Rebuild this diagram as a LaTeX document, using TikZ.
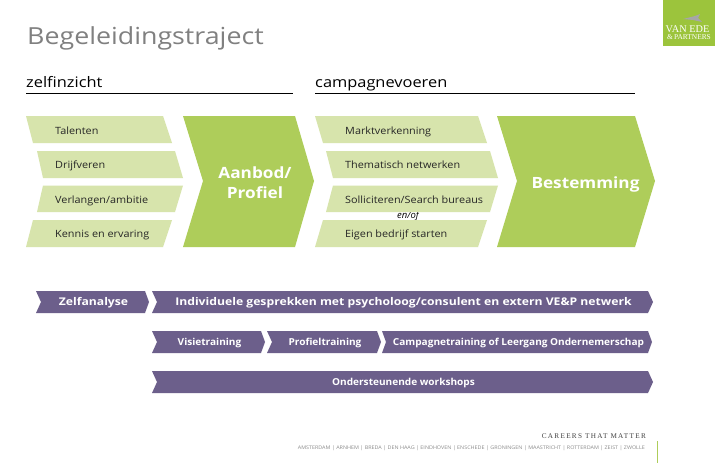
\documentclass[tikz,border=0pt]{standalone}
\usepackage{fontspec}
\setmainfont{Open Sans}
\newfontfamily\logofont{Liberation Serif}
\definecolor{lightgreen}{HTML}{D7E4AC}
\definecolor{midgreen}{HTML}{AECD5A}
\definecolor{logogreen}{HTML}{9CC43C}
\definecolor{purplebar}{HTML}{6C5F8B}
\definecolor{titlegray}{HTML}{808080}
\tikzset{
  lightshape/.style={fill=lightgreen,draw=none},
  bigshape/.style={fill=midgreen,draw=none},
  barshape/.style={fill=purplebar,draw=none},
  itemlabel/.style={anchor=base west,inner sep=0pt,font=\fontsize{10}{12}\selectfont\addfontfeature{FakeStretch=1.085},text=black!85},
  biglabel/.style={anchor=center,inner sep=0pt,align=center,text=white,font=\fontsize{15.5}{20}\selectfont\bfseries\addfontfeature{FakeStretch=1.11}},
  barlabel/.style={anchor=center,inner sep=0pt,text=white,font=\fontsize{9.6}{12}\selectfont\bfseries\addfontfeature{FakeStretch=1.05}},
  barlabelwide/.style={anchor=center,inner sep=0pt,text=white,font=\fontsize{10.6}{12}\selectfont\bfseries\addfontfeature{FakeStretch=1.15}},
  headlabel/.style={anchor=base west,inner sep=0pt,font=\fontsize{14.5}{17}\selectfont\addfontfeature{FakeStretch=1.13},text=black},
  headrule/.style={line width=0.8pt,black}
}
\begin{document}
\begin{tikzpicture}[x=1pt,y=-1pt]
\useasboundingbox[fill=white] (0,0) rectangle (715,463);
% logo
\fill[logogreen] (663,0) rectangle (715,46);
\fill[gray!70!white] (683,19) -- (695,16) -- (700,14) -- (698,18) -- (702,22) -- (693,20) -- cycle;
\node[inner sep=0pt,text=white,font=\logofont\fontsize{10.3}{11}\selectfont] (logoa) at (687.5,29) {VAN EDE};
\node[inner sep=0pt,text=white,font=\logofont\fontsize{7.4}{8}\selectfont] (logob) at (689,37) {\&\,PARTNERS};
% title
\node[anchor=base west,inner sep=0pt,text=titlegray,font=\fontsize{23.5}{28}\selectfont\addfontfeature{FakeStretch=1.14}] (title) at (27,44) {Begeleidingstraject};
% headings
\node[headlabel] (h1) at (26,87.5) {zelfinzicht};
\node[headlabel] (h2) at (315,87.5) {campagnevoeren};
\coordinate (r1a) at (26,93); \coordinate (r1b) at (293,93);
\coordinate (r2a) at (315,93); \coordinate (r2b) at (635,93);
\draw[headrule] (r1a) -- (r1b);
\draw[headrule] (r2a) -- (r2b);
% en/of behind shapes
\node[inner sep=0pt,text=black,font=\fontsize{9.5}{11}\selectfont\itshape] (enof) at (408,216.5) {en/of};
% left group
\fill[lightshape] (26,116) -- (163,116) -- (172,143) -- (33,143) -- cycle;
\fill[lightshape] (37,151) -- (175,151) -- (183,178) -- (43,178) -- cycle;
\fill[lightshape] (43,185.5) -- (183,185.5) -- (175,212) -- (37,212) -- cycle;
\fill[lightshape] (33,220) -- (172,220) -- (163,247) -- (26,247) -- cycle;
\fill[bigshape] (183,116) -- (295,116) -- (314,181) -- (295,247) -- (183,247) -- (203,181) -- cycle;
% right group
\fill[lightshape] (315,116) -- (478,116) -- (487,143) -- (323,143) -- cycle;
\fill[lightshape] (326,151) -- (490,151) -- (498,178) -- (333,178) -- cycle;
\fill[lightshape] (333,185.5) -- (498,185.5) -- (490,212) -- (326,212) -- cycle;
\fill[lightshape] (323,220) -- (487,220) -- (478,247) -- (315,247) -- cycle;
\fill[bigshape] (497,116) -- (635,116) -- (655,181) -- (635,247) -- (497,247) -- (517,181) -- cycle;
% labels
\node[itemlabel] (t1) at (55,134) {Talenten};
\node[itemlabel] (t2) at (55,168) {Drijfveren};
\node[itemlabel] (t3) at (55,203) {Verlangen/ambitie};
\node[itemlabel] (t4) at (55,237) {Kennis en ervaring};
\node[itemlabel] (u1) at (345,134) {Marktverkenning};
\node[itemlabel] (u2) at (345,168) {Thematisch netwerken};
\node[itemlabel] (u3) at (345,203) {Solliciteren/Search bureaus};
\node[itemlabel] (u4) at (345,237) {Eigen bedrijf starten};
\node[biglabel] (aan) at (255,183) {Aanbod/\\Profiel};
\node[biglabel] (bes) at (585.5,184) {Bestemming};
% bars
\fill[barshape] (36,291) -- (145,291) -- (149,302) -- (145,313) -- (36,313) -- (41,302) -- cycle;
\fill[barshape] (152,291) -- (648,291) -- (653,302) -- (648,313) -- (152,313) -- (157,302) -- cycle;
\fill[barshape] (152,331) -- (261,331) -- (265,342) -- (261,353) -- (152,353) -- (157,342) -- cycle;
\fill[barshape] (267,331) -- (377,331) -- (381,342) -- (377,353) -- (267,353) -- (272,342) -- cycle;
\fill[barshape] (382,331) -- (648,331) -- (652,342) -- (648,353) -- (382,353) -- (386,342) -- cycle;
\fill[barshape] (152,371) -- (648,371) -- (653,382) -- (648,393) -- (152,393) -- (157,382) -- cycle;
\node[barlabelwide] (b1) at (93.5,303) {Zelfanalyse};
\node[barlabelwide] (b2) at (403.5,303) {Individuele gesprekken met psycholoog/consulent en extern VE\&P netwerk};
\node[barlabel] (b3) at (209.5,343) {Visietraining};
\node[barlabel] (b4) at (325,343) {Profieltraining};
\node[barlabel] (b5) at (518.5,343) {Campagnetraining of Leergang Ondernemerschap};
\node[barlabel] (b6) at (403.5,383) {Ondersteunende workshops};
% footer
\node[anchor=base east,inner sep=0pt,text=black!75,font=\logofont\fontsize{7.2}{8}\selectfont\addfontfeature{LetterSpace=18}] (care) at (646,438) {CAREERS THAT MATTER};
\node[anchor=base east,inner sep=0pt,text=black!45,font=\fontsize{5}{6}\selectfont\addfontfeature{FakeStretch=1.08}] (city) at (645,449) {AMSTERDAM | ARNHEM | BREDA | DEN HAAG | EINDHOVEN | ENSCHEDE | GRONINGEN | MAASTRICHT | ROTTERDAM | ZEIST | ZWOLLE};
\coordinate (va) at (657,441); \coordinate (vb) at (657,463);
\draw[line width=0.9pt,midgreen] (va) -- (vb);
\end{tikzpicture}
\end{document}
